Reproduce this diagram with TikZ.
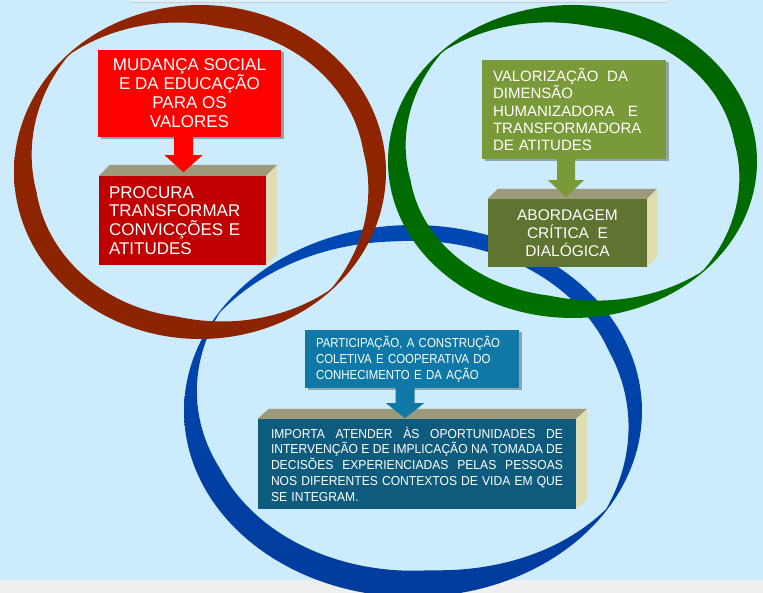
\documentclass[tikz,border=0pt]{standalone}
\usepackage{fontspec}
\setmainfont{Liberation Sans}
\newfontfamily\condfont[FakeStretch=0.88]{Liberation Sans}
\newfontfamily\bodyfont[FakeStretch=0.93]{Liberation Sans}
\usetikzlibrary{shadows}

\definecolor{bgblue}{HTML}{CCEBFC}
\definecolor{bandgrey}{HTML}{EFEFEF}
\definecolor{stripcol}{HTML}{DCEFFA}
\definecolor{redtop}{HTML}{FF0000}
\definecolor{redfront}{HTML}{C00000}
\definecolor{greentop}{HTML}{7A9A3A}
\definecolor{greenfront}{HTML}{5E7430}
\definecolor{bluetop}{HTML}{0F78A6}
\definecolor{bluefront}{HTML}{0E5B7D}
\definecolor{topface}{HTML}{9C9A7A}
\definecolor{sideface}{HTML}{E0DDB2}
\definecolor{ringredA}{HTML}{902400}
\definecolor{ringredB}{HTML}{B52D00}
\definecolor{ringredC}{HTML}{8C2400}
\definecolor{ringgreenA}{HTML}{006400}
\definecolor{ringgreenB}{HTML}{008200}
\definecolor{ringgreenC}{HTML}{007000}
\definecolor{ringblueA}{HTML}{0048B4}
\definecolor{ringblueB}{HTML}{0056D2}
\definecolor{ringblueC}{HTML}{003C9C}

\def\jsp{\hskip 0.2em plus 1fill\relax}
\def\jline#1#2{\leavevmode\hbox to #1{#2}}

\tikzset{
  flatbox/.style={rectangle, inner sep=0pt, text=white,
    drop shadow={shadow xshift=2.5pt, shadow yshift=-2.5pt, opacity=0.3, fill=black}},
  frontbox/.style={rectangle, inner sep=0pt, text=white},
  declare function={
    wr(\u)=1+20*min(1,1.25*abs(sin(\u-45)));
    wg(\u)=1+20*min(1,1.25*abs(sin(\u-45)));
    wb(\u)=(1+20*min(1,1.25*abs(sin(\u-32))))*(1+0.25*sin(\u));
  }
}

\begin{document}
\begin{tikzpicture}[x=1pt,y=-1pt]
\useasboundingbox (0,0) rectangle (763,593);
\fill[bgblue] (0,0) rectangle (763,593);
\fill[bandgrey] (0,580) rectangle (763,593);
\fill[stripcol] (130,0) rectangle (667,1.8);
\draw[black!20, line width=0.8pt] (130,2.2) -- (667,2.2);

% blue ring
\shade[even odd rule, top color=ringblueA, middle color=ringblueB, bottom color=ringblueC]
  plot[variable=\t, domain=0:360, samples=181] ({413+229*cos(\t)},{411+186*sin(\t)}) -- cycle
  plot[variable=\t, domain=0:360, samples=181] ({413+(229-wb(\t))*cos(\t)},{411+(186-wb(\t))*sin(\t)}) -- cycle;
% red ring
\shade[even odd rule, top color=ringredA, middle color=ringredB, bottom color=ringredC]
  plot[variable=\t, domain=0:360, samples=181] ({200+186*cos(\t)},{172+167*sin(\t)}) -- cycle
  plot[variable=\t, domain=0:360, samples=181] ({200+(186-wr(\t))*cos(\t)},{172+(167-wr(\t))*sin(\t)}) -- cycle;
% green ring
\shade[even odd rule, top color=ringgreenA, middle color=ringgreenB, bottom color=ringgreenC]
  plot[variable=\t, domain=0:360, samples=181] ({572.5+184.5*cos(\t)},{161.5+156.5*sin(\t)}) -- cycle
  plot[variable=\t, domain=0:360, samples=181] ({572.5+(184.5-wg(\t))*cos(\t)},{161.5+(156.5-wg(\t))*sin(\t)}) -- cycle;

% red group
\node[flatbox, fill=redtop, minimum width=183pt, minimum height=87pt, align=center,
  font=\fontsize{17}{19}\selectfont] (rtop) at (189.5,93.5)
  {MUDANÇA SOCIAL\\E DA EDUCAÇÃO\\PARA OS\\VALORES};
\node[frontbox, fill=redfront, minimum width=167pt, minimum height=89pt, text width=147pt,
  align=left, font=\fontsize{17}{18.7}\selectfont] (r3d) at (182.5,220.5)
  {PROCURA\\TRANSFORMAR\\CONVICÇÕES E\\ATITUDES};
\fill[topface] (r3d.north west) -- (r3d.north east) -- ++(11,-11) -- ([shift={(11,-11)}]r3d.north west) -- cycle;
\fill[sideface] (r3d.north east) -- ++(11,-11) -- ([shift={(11,-11)}]r3d.south east) -- (r3d.south east) -- cycle;
\fill[redtop] ([xshift=-15.5pt]rtop.south) -- ++(0,18) -- ++(-9.5,0) -- ++(19,17) -- ++(19,-17) -- ++(-9.5,0) -- ++(0,-18) -- cycle;

% green group
\node[flatbox, fill=greentop, minimum width=184pt, minimum height=99pt, text width=162pt,
  align=left, font=\fontsize{15}{17.3}\selectfont] (gtop) at (574,109.5)
  {\jline{135pt}{VALORIZAÇÃO\jsp DA}\\DIMENSÃO\\\jline{145pt}{HUMANIZADORA\jsp E}\\TRANSFORMADORA\\DE ATITUDES};
\node[frontbox, fill=greenfront, minimum width=159pt, minimum height=68pt, align=center,
  font=\fontsize{15.5}{18}\selectfont] (g3d) at (567.5,233)
  {ABORDAGEM\\CRÍTICA\ \ E\\DIALÓGICA};
\fill[topface] (g3d.north west) -- (g3d.north east) -- ++(10,-10) -- ([shift={(10,-10)}]g3d.north west) -- cycle;
\fill[sideface] (g3d.north east) -- ++(10,-10) -- ([shift={(10,-10)}]g3d.south east) -- (g3d.south east) -- cycle;
\fill[greentop] ([xshift=-17pt]gtop.south) -- ++(0,21) -- ++(-9,0) -- ++(18,17) -- ++(18,-17) -- ++(-9,0) -- ++(0,-21) -- cycle;

% blue group
\node[flatbox, fill=bluetop, minimum width=214pt, minimum height=58pt, text width=192pt,
  align=left, font=\condfont\fontsize{13}{16}\selectfont] (btop) at (412,359)
  {PARTICIPAÇÃO, A CONSTRUÇÃO\\COLETIVA E COOPERATIVA DO\\CONHECIMENTO E DA AÇÃO};
\node[frontbox, fill=bluefront, minimum width=318pt, minimum height=90pt, text width=292pt,
  align=left, font=\bodyfont\fontsize{13}{15.75}\selectfont] (b3d) at (417,464)
  {\jline{292pt}{IMPORTA\jsp ATENDER\jsp ÀS\jsp OPORTUNIDADES\jsp DE}\\
   \jline{292pt}{INTERVENÇÃO\jsp E\jsp DE\jsp IMPLICAÇÃO\jsp NA\jsp TOMADA\jsp DE}\\
   \jline{292pt}{DECISÕES\jsp EXPERIENCIADAS\jsp PELAS\jsp PESSOAS}\\
   \jline{292pt}{NOS\jsp DIFERENTES\jsp CONTEXTOS\jsp DE\jsp VIDA\jsp EM\jsp QUE}\\
   SE INTEGRAM.};
\fill[topface] (b3d.north west) -- (b3d.north east) -- ++(11,-10) -- ([shift={(11,-10)}]b3d.north west) -- cycle;
\fill[sideface] (b3d.north east) -- ++(11,-10) -- ([shift={(11,-10)}]b3d.south east) -- (b3d.south east) -- cycle;
\fill[bluetop] ([xshift=-16.5pt]btop.south) -- ++(0,15) -- ++(-9.5,0) -- ++(19,15) -- ++(19,-15) -- ++(-9.5,0) -- ++(0,-15) -- cycle;
\end{tikzpicture}
\end{document}
